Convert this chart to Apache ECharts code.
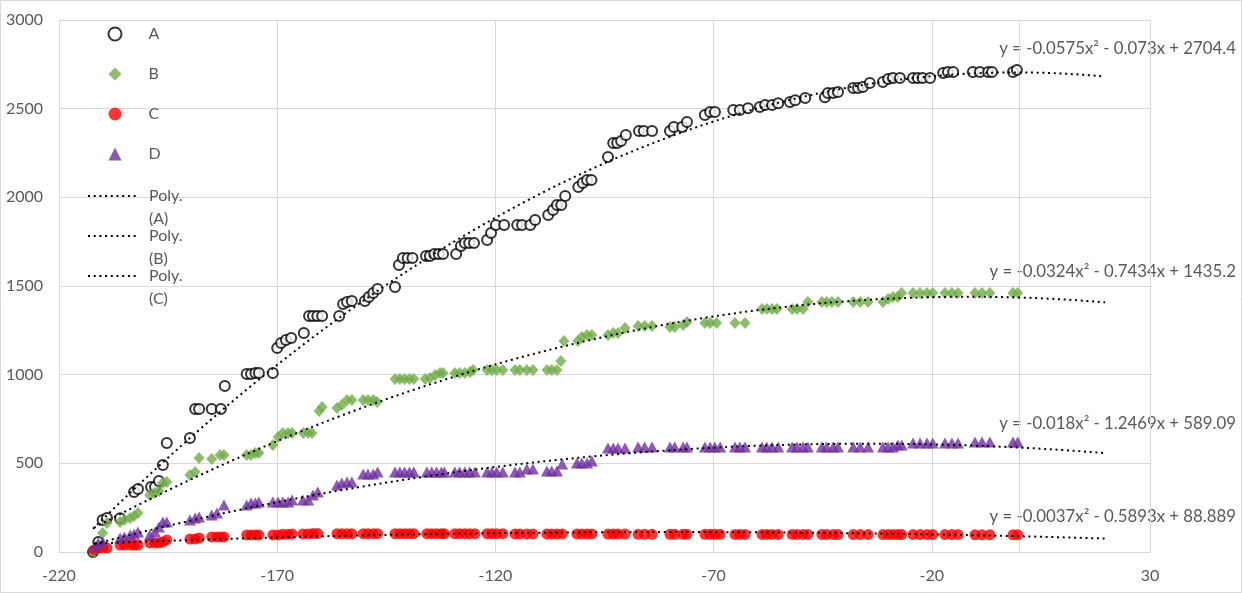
<!DOCTYPE html>
<html>
<head>
<meta charset="utf-8">
<script src="https://cdn.jsdelivr.net/npm/echarts@6/dist/echarts.min.js"></script>
<style>
html,body{margin:0;padding:0;background:#fff;}
#chart{width:1242px;height:593px;}
</style>
</head>
<body>
<div id="chart"></div>
<script>
// ---- Data ----
const xA = [-212.2,-211,-210,-209,-206,-202.8,-201.9,-198.9,-198,-197.1,-196.2,-195.3,-190,-188.8,-187.9,-185,-182.9,-182,-177,-176,-175,-174.2,-171,-170,-169.1,-168,-166.8,-163.9,-162.7,-161.8,-160.8,-159.7,-155.8,-154.9,-154,-152.9,-149.9,-149,-148,-147,-143,-142.1,-141.2,-140.1,-139,-135.9,-135,-134,-133,-132,-129,-127.9,-127,-126,-124.9,-121.9,-121,-119.9,-118,-115,-113.9,-112,-110.9,-107.9,-106.8,-105.9,-104.9,-104,-101,-100,-99,-98,-94.2,-93,-92.1,-91.2,-90.1,-87.1,-86,-84.1,-80,-79.1,-77.2,-76.1,-72,-70.8,-69.7,-65.5,-64,-62.1,-59.4,-58.2,-56.6,-55.2,-52.5,-51.3,-49,-44.5,-43.8,-42.6,-41.5,-38,-36.9,-35.8,-34.2,-31.2,-30,-28.9,-27.3,-24.3,-23.2,-22.1,-20.4,-17.4,-16.3,-15.1,-10.6,-9,-7.1,-6.2,-1.4,-0.5];
const yA = [0,56,180,192,190,338,355,367,367,400,490,615,643,806,806,806,806,936,1004,1004,1010,1010,1010,1150,1178,1195,1207,1235,1331,1331,1331,1331,1331,1398,1410,1415,1415,1438,1460,1483,1494,1618,1658,1658,1658,1669,1669,1680,1680,1680,1680,1726,1742,1742,1742,1759,1799,1844,1844,1844,1844,1844,1872,1900,1928,1957,1957,2008,2058,2081,2098,2098,2227,2306,2306,2317,2351,2374,2374,2374,2374,2397,2397,2425,2464,2481,2481,2492,2492,2503,2509,2520,2520,2531,2537,2548,2560,2565,2588,2588,2594,2616,2616,2622,2645,2650,2667,2673,2673,2673,2673,2673,2673,2701,2707,2707,2707,2707,2707,2707,2707,2718];

const xB = [-212,-210,-209,-206,-205,-203.7,-202.8,-201.9,-199.2,-198.2,-197.1,-196.2,-195.3,-190,-188.8,-187.9,-185,-183.1,-182.2,-177,-176,-175,-174.2,-171,-169.8,-168.7,-167.5,-166.6,-164,-162.9,-162,-160.4,-159.7,-156.3,-155.2,-154,-152.9,-150.3,-149.2,-148,-147.1,-143,-141.9,-140.8,-139.7,-138.7,-136.1,-135,-133.8,-132.7,-132,-129.3,-128.2,-127,-125.8,-125.1,-121.9,-120.8,-119.7,-118.3,-115.5,-114.4,-112.8,-111.4,-108.2,-107.1,-105.9,-105,-104.3,-101.1,-100.2,-99,-97.9,-94.2,-93,-91.9,-90.3,-87.3,-85.8,-84.1,-80,-78.9,-77,-76.1,-72,-70.8,-69.3,-65.1,-62.8,-58.9,-57.8,-56.6,-55.5,-52,-50.9,-49.5,-48.4,-45.2,-44.1,-42.9,-41.5,-38,-36.4,-34.6,-31.2,-30,-28.9,-27.8,-26.9,-24.3,-22.7,-21.1,-19.8,-17,-15.4,-14,-10.1,-8.5,-6.7,-1.4,-0.3];
const yB = [0,107,163,169,180,192,203,220,321,333,344,389,395,434,451,530,524,547,547,547,547,558,558,603,648,671,671,671,671,671,671,795,818,812,829,857,857,857,857,857,846,975,975,975,975,975,975,981,998,1009,1009,1009,1009,1009,1015,1026,1026,1026,1026,1026,1026,1026,1026,1026,1026,1026,1026,1077,1190,1190,1212,1224,1224,1224,1235,1235,1263,1274,1274,1274,1269,1269,1280,1297,1291,1291,1291,1291,1291,1370,1370,1370,1370,1370,1370,1370,1410,1410,1410,1410,1410,1410,1410,1410,1410,1427,1438,1438,1460,1460,1460,1460,1460,1460,1460,1460,1460,1460,1460,1460,1460];

const xC = [-212,-211,-210,-209,-206,-205,-203.7,-202.8,-201.9,-199.2,-198,-197.1,-196.2,-195.3,-190,-188.8,-187.9,-185,-183.8,-182.9,-182.2,-177,-176,-175,-174.2,-171,-169.8,-168.7,-167.5,-166.6,-164.1,-162.9,-161.8,-160.7,-156.3,-155.2,-154,-152.9,-150.3,-149.2,-148,-147,-143,-141.9,-140.8,-139.7,-138.7,-135.7,-134.6,-133.5,-132.4,-131.7,-129.3,-128.2,-127,-125.9,-124.7,-121.9,-120.8,-119.7,-118.3,-115.5,-114.4,-112.8,-111.4,-108.2,-107.1,-105.9,-104.7,-101.3,-100.2,-99,-97.9,-94.2,-93,-91.9,-90.3,-87.3,-85.8,-84.1,-80,-78.9,-77,-76.1,-72,-70.8,-69.7,-68.5,-65.1,-64,-62.8,-58.9,-57.8,-56.6,-55.2,-52,-50.9,-49.5,-48.4,-45.2,-44.1,-42.6,-41.5,-38,-36.4,-34.6,-31.2,-30,-28.9,-27.8,-26.9,-24.3,-22.7,-21.1,-19.8,-17,-15.4,-14,-10.1,-8.5,-6.7,-1.4,-0.3];
const yC = [11,22,22,22,39,39,39,39,39,51,51,51,56,68,73,73,79,85,85,85,85,96,96,96,96,96,96,100,100,102,102,102,104,104,103,103,103,103,103,103,103,103,103,103,103,103,103,103,103,103,103,103,103,103,103,103,103,103,103,103,103,102,102,102,102,102,102,102,102,102,102,102,102,101,101,101,101,100,100,100,100,100,100,100,100,100,100,100,99,99,99,99,99,99,99,99,99,99,99,99,98,98,98,98,98,98,98,98,98,98,98,98,98,98,98,98,98,98,97,97,97,97,97,97];

const xD = [-211.7,-211,-210,-206,-205,-203.7,-202.8,-201.9,-199.2,-198,-197.1,-196.2,-195.3,-190,-188.8,-187.9,-185,-183.8,-182.2,-177,-176,-175,-174.2,-171,-169.8,-168.7,-167.5,-166.6,-164.1,-162.9,-161.8,-160.7,-156.3,-155.2,-154,-152.9,-150.3,-149.2,-148,-147,-143,-141.9,-140.8,-139.7,-138.7,-135.7,-134.6,-133.5,-132.4,-131.7,-129.3,-128.2,-127,-125.9,-124.7,-121.9,-120.8,-119.7,-118.3,-115.5,-114.4,-112.8,-111.4,-108.2,-107.1,-105.9,-104.7,-101.3,-100.2,-99,-97.9,-94.2,-93,-91.9,-90.3,-87.3,-85.8,-84.1,-80,-78.9,-77,-76.1,-72,-70.8,-69.7,-68.5,-65.1,-64,-62.8,-58.9,-57.8,-56.6,-55.2,-52,-50.9,-49.5,-48.4,-45.2,-44.1,-42.6,-41.5,-38,-36.4,-34.6,-31.2,-30,-28.9,-27.8,-26.9,-24.3,-22.7,-21.1,-19.8,-17,-15.4,-14,-10.1,-8.5,-6.7,-1.4,-0.3];
const yD = [28,51,56,79,85,96,101,113,96,113,141,169,169,180,192,197,209,220,265,265,276,276,282,282,282,282,282,293,293,293,321,338,378,389,395,395,440,440,440,451,451,451,451,451,451,451,451,451,451,451,451,451,451,451,451,451,451,451,451,451,451,468,468,457,457,457,496,502,502,502,513,586,586,586,586,592,592,592,592,592,592,592,592,592,592,592,592,592,592,592,592,592,592,592,592,592,592,592,592,592,592,592,592,592,592,592,592,603,603,615,615,615,615,615,615,615,620,620,620,620,620,620];

// Trendline equations shown on the chart (coefficients of x², x, 1)
const coefA = [-0.0575, -0.073, 2704.4];
const coefB = [-0.0324, -0.7434, 1435.2];
const coefC = [-0.0037, -0.5893, 88.889];
const coefD = [-0.018, -1.2469, 589.09];
const eqLabels = ['y = -0.0575x² - 0.073x + 2704.4','y = -0.0324x² - 0.7434x + 1435.2','y = -0.0037x² - 0.5893x + 88.889','y = -0.018x² - 1.2469x + 589.09'];
const forwardForecast = 20;

const xTicks = {min:-220, max:30, interval:50};
const yTicks = {min:0, max:3000, interval:500};

function zip(xs, ys){ return xs.map((x,i)=>[x, ys[i]]); }
function trend(c, xs){
  const x0 = Math.min(...xs), x1 = Math.max(...xs) + forwardForecast;
  const pts = [];
  for (let x = x0; x < x1; x += 1) pts.push([x, c[0]*x*x + c[1]*x + c[2]]);
  pts.push([x1, c[0]*x1*x1 + c[1]*x1 + c[2]]);
  return pts;
}

const FONT = 'Lato';
const TXT = '#595959';
const GRID = '#d9d9d9';
const dotted = {color:'#000', width:2, type:[2,3.7], cap:'butt'};

const chart = echarts.init(document.getElementById('chart'), null, {renderer:'canvas'});
const trendSeries = (name, c, xs) => ({
  name, type:'line', data: trend(c, xs), showSymbol:false, symbol:'none',
  itemStyle:{color:'#000'},
  lineStyle: dotted, z:5, silent:true, animation:false
});
const legendText = {fontFamily:FONT, fontSize:16, color:TXT};
const polyLegend = (name, top) => ({
  data:[name], left:87, top, itemWidth:50, itemHeight:14, padding:0, selectedMode:false,
  itemStyle:{opacity:0},
  formatter:n=>'\n' + n.replace(' ','\n'),
  textStyle:Object.assign({lineHeight:23, padding:[0,0,0,6]}, legendText)
});
const eqFont = '16.8px Lato';

chart.setOption({
  animation:false,
  grid:{left:59, right:92, top:20, bottom:41},
  xAxis:{type:'value', min:xTicks.min, max:xTicks.max, interval:xTicks.interval,
    axisLine:{show:true, lineStyle:{color:GRID, width:1}}, axisTick:{show:false},
    splitLine:{show:true, lineStyle:{color:GRID, width:1}},
    axisLabel:{fontFamily:FONT, fontSize:16, color:TXT, margin:16, formatter:v=>String(v)}},
  yAxis:{type:'value', min:yTicks.min, max:yTicks.max, interval:yTicks.interval,
    axisLine:{show:true, lineStyle:{color:GRID, width:1}}, axisTick:{show:false},
    splitLine:{show:true, lineStyle:{color:GRID, width:1}},
    axisLabel:{fontFamily:FONT, fontSize:16, color:TXT, margin:16, formatter:v=>String(v)}},
  legend:[
    {data:['A','B','C','D'], orient:'vertical', left:107.5, top:25, itemWidth:13, itemHeight:13, itemGap:22, padding:0, selectedMode:false,
      textStyle:Object.assign({lineHeight:18, padding:[0,0,0,22]}, legendText)},
    polyLegend('Poly. (A)', 161.5),
    polyLegend('Poly. (B)', 201.5),
    polyLegend('Poly. (C)', 241.5)
  ],
  series:[
    {name:'A', type:'scatter', data:zip(xA,yA), symbol:'emptyCircle', symbolSize:10,
      itemStyle:{color:'#000', borderColor:'#000', borderWidth:1.4}},
    {name:'B', type:'scatter', data:zip(xB,yB), symbol:'diamond', symbolSize:[11,12],
      itemStyle:{color:'#70AD47'}},
    {name:'C', type:'scatter', data:zip(xC,yC), symbol:'circle', symbolSize:11,
      itemStyle:{color:'#FF0000'}},
    {name:'D', type:'scatter', data:zip(xD,yD), symbol:'triangle', symbolSize:[12,11],
      itemStyle:{color:'#7030A0'}},
    trendSeries('Poly. (A)', coefA, xA),
    trendSeries('Poly. (B)', coefB, xB),
    trendSeries('Poly. (C)', coefC, xC),
    trendSeries('Poly. (D)', coefD, xD)
  ],
  graphic:[
    {type:'rect', shape:{x:0.5, y:0.5, width:1241, height:592}, style:{fill:'none', stroke:GRID, lineWidth:1}, silent:true},
    {type:'text', x:1236, y:49, style:{text:eqLabels[0], align:'right', verticalAlign:'middle', font:eqFont, fill:TXT}},
    {type:'text', x:1236, y:272, style:{text:eqLabels[1], align:'right', verticalAlign:'middle', font:eqFont, fill:TXT}},
    {type:'text', x:1236, y:517, style:{text:eqLabels[2], align:'right', verticalAlign:'middle', font:eqFont, fill:TXT}},
    {type:'text', x:1236, y:424, style:{text:eqLabels[3], align:'right', verticalAlign:'middle', font:eqFont, fill:TXT}}
  ]
});
</script>
</body>
</html>
